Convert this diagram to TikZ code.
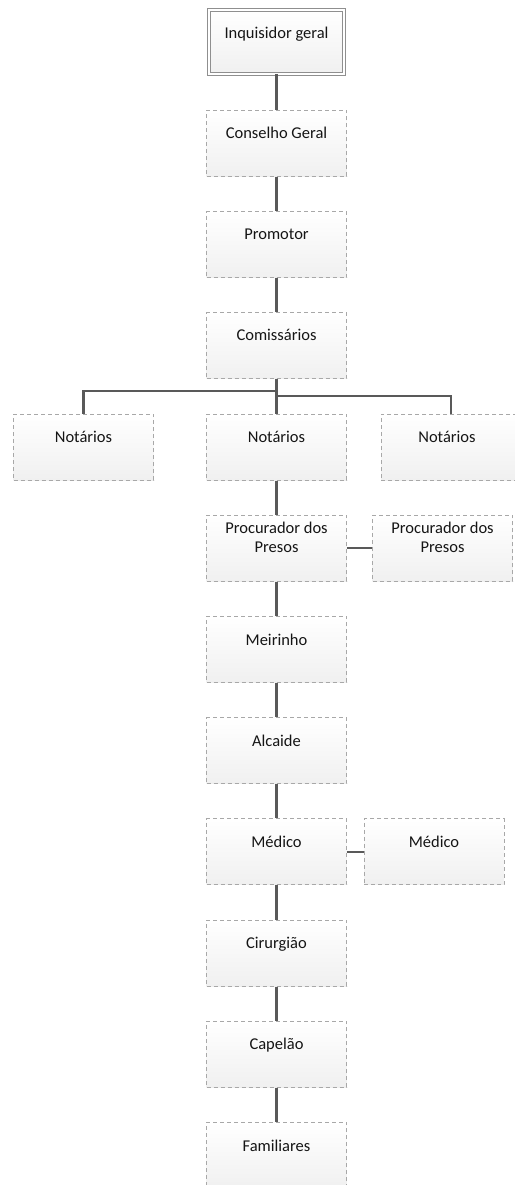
\documentclass[tikz,border=0pt]{standalone}
\usepackage{fontspec}
\setmainfont{Carlito}
\definecolor{boxline}{HTML}{A8A8A8}
\definecolor{conn}{HTML}{595959}
\definecolor{txtc}{HTML}{151515}
\definecolor{boxfillb}{HTML}{F0F0F0}
\tikzset{
  orgbox/.style={draw=boxline, dash pattern=on 4pt off 3pt, line width=0.9pt,
    top color=white, bottom color=boxfillb, minimum width=140pt, minimum height=66pt,
    inner sep=0pt, anchor=north},
  topbox/.style={draw=boxline!85!black, line width=0.8pt, double=white, double distance=2pt,
    top color=white, bottom color=boxfillb, minimum width=135pt, minimum height=64pt,
    inner sep=0pt, anchor=north},
  lbl/.style={text=txtc, font=\fontsize{16.5}{19}\selectfont, align=center, inner sep=0pt},
  link/.style={draw=conn, line width=2.2pt},
}
\begin{document}
\begin{tikzpicture}[x=1pt,y=-1pt]
\useasboundingbox (0,0) rectangle (514,1185);
% boxes
\node[topbox] (inq) at (276.5,9.5) {};
\node[orgbox] (cons) at (276.5,110) {};
\node[orgbox] (prom) at (276.5,211.2) {};
\node[orgbox] (comi) at (276.5,312.4) {};
\node[orgbox] (notL) at (83.5,413.6) {};
\node[orgbox] (notC) at (276.5,413.6) {};
\node[orgbox] (notR) at (451,413.6) {};
\node[orgbox] (proc) at (276.5,514.8) {};
\node[orgbox] (procR) at (442.5,514.8) {};
\node[orgbox] (meir) at (276.5,616) {};
\node[orgbox] (alca) at (276.5,717.2) {};
\node[orgbox] (medi) at (276.5,818.4) {};
\node[orgbox] (mediR) at (434,818.4) {};
\node[orgbox] (ciru) at (276.5,919.6) {};
\node[orgbox] (cape) at (276.5,1020.8) {};
\node[orgbox] (fami) at (276.5,1122) {};
% labels
\node[lbl, anchor=base] (tinq) at ([yshift=-29pt]inq.north) {Inquisidor geral};
\node[lbl, anchor=base] (tcons) at ([yshift=-28.5pt]cons.north) {Conselho Geral};
\node[lbl, anchor=base] (tprom) at ([yshift=-28.5pt]prom.north) {Promotor};
\node[lbl, anchor=base] (tcomi) at ([yshift=-28.5pt]comi.north) {Comissários};
\node[lbl, anchor=base] (tnotL) at ([yshift=-29pt]notL.north) {Notários};
\node[lbl, anchor=base] (tnotC) at ([yshift=-29pt]notC.north) {Notários};
\node[lbl, anchor=base] (tnotR) at ([xshift=-4pt,yshift=-29pt]notR.north) {Notários};
\node[lbl] (tproc) at ([yshift=-23pt]proc.north) {Procurador dos\\Presos};
\node[lbl] (tprocR) at ([yshift=-23pt]procR.north) {Procurador dos\\Presos};
\node[lbl, anchor=base] (tmeir) at ([yshift=-29pt]meir.north) {Meirinho};
\node[lbl, anchor=base] (talca) at ([yshift=-29pt]alca.north) {Alcaide};
\node[lbl, anchor=base] (tmedi) at ([yshift=-29pt]medi.north) {Médico};
\node[lbl, anchor=base] (tmediR) at ([yshift=-29pt]mediR.north) {Médico};
\node[lbl, anchor=base] (tciru) at ([yshift=-29pt]ciru.north) {Cirurgião};
\node[lbl, anchor=base] (tcape) at ([yshift=-29pt]cape.north) {Capelão};
\node[lbl, anchor=base] (tfami) at ([yshift=-29pt]fami.north) {Familiares};
% connectors
\path[link] (inq.south) -- (cons.north);
\path[link] (cons.south) -- (prom.north);
\path[link] (prom.south) -- (comi.north);
\path[link] (comi.south) -- (notC.north);
\path[link] (comi.south) ++(0,12) -| (notL.north);
\path[link] (comi.south) ++(0,17) -| (notR.north);
\path[link] (notC.south) -- (proc.north);
\path[link] (proc.east) -- (procR.west);
\path[link] (proc.south) -- (meir.north);
\path[link] (meir.south) -- (alca.north);
\path[link] (alca.south) -- (medi.north);
\path[link] (medi.east) -- (mediR.west);
\path[link] (medi.south) -- (ciru.north);
\path[link] (ciru.south) -- (cape.north);
\path[link] (cape.south) -- (fami.north);
\end{tikzpicture}
\end{document}
